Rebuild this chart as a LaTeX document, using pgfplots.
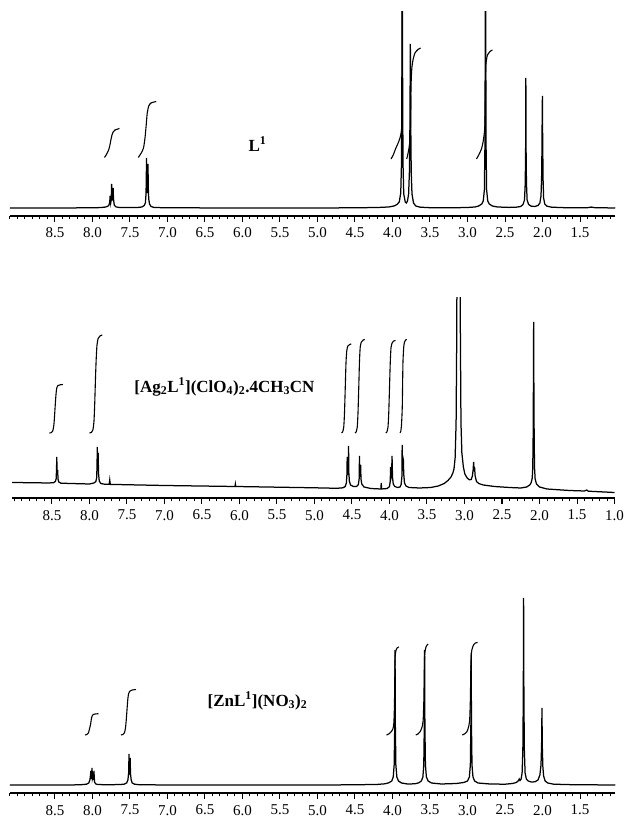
\documentclass[border=0pt]{standalone}
\usepackage{fontspec}
\setmainfont{Liberation Serif}
\usepackage{pgfplots}
\pgfplotsset{compat=1.18}
\pgfplotsset{nmr/.style={
  scale only axis, anchor=south west,
  x dir=reverse,
  axis x line=bottom, axis y line=none,
  axis line style={-, line width=1.6pt},
  tick align=outside,
  major tick length=6pt, minor tick length=3.5pt,
  tick style={black, line width=1pt},
  ytick=\empty,
  xticklabel style={font=\fontsize{15}{17}\selectfont, yshift=-2.5pt},
  clip=true,
  /pgf/number format/.cd, fixed, fixed zerofill, precision=1, assume math mode=true
}}
\tikzset{spec/.style={black, line width=1.25pt, mark=none},
  integ/.style={black, line width=1.1pt, mark=none, smooth, tension=0.4},
  lab/.style={font=\fontsize{17}{20}\selectfont\bfseries}}
\begin{document}
\begin{tikzpicture}
\useasboundingbox (0,0) rectangle (625pt,821pt);
% ---------------- Panel 1: L1 ----------------
\begin{axis}[nmr, at={(10pt,605pt)}, width=605.25pt, height=204pt,
  xmin=1.03, xmax=9.1, ymin=-8, ymax=196,
  xtick={1.5,2,...,8.5}, minor xtick={1.1,1.2,...,9.05}]
\addplot[spec] coordinates {(9.10,0)(8.5,0)(8.0,0.2)(7.90,0.4)(7.84,0.8)(7.80,1.5)(7.78,3)(7.77,6)(7.765,12)(7.757,5)(7.75,8)(7.745,24)(7.737,8)(7.732,8)(7.725,20)(7.72,9)(7.71,3)(7.69,1.2)(7.65,0.6)(7.55,0.4)(7.40,0.5)(7.34,1)(7.31,2.5)(7.295,5)(7.288,12)(7.283,25)(7.28,50)(7.276,22)(7.27,15)(7.264,22)(7.26,44)(7.256,20)(7.25,9)(7.24,4)(7.22,1.5)(7.18,0.5)(7.0,0.2)(6.0,0)(5.0,0)(4.5,0.2)(4.2,0.5)(4.05,1)(3.98,2)(3.94,3.5)(3.91,6)(3.89,15)(3.88,45)(3.875,130)(3.87,600)(3.865,130)(3.86,45)(3.85,14)(3.83,6)(3.815,5)(3.80,7)(3.785,14)(3.775,35)(3.768,80)(3.762,164)(3.756,80)(3.75,35)(3.74,14)(3.72,5)(3.69,2)(3.63,0.8)(3.5,0.3)(3.2,0.2)(3.0,0.5)(2.90,1)(2.85,2)(2.81,4)(2.79,7)(2.775,18)(2.768,60)(2.764,150)(2.76,600)(2.756,150)(2.752,60)(2.745,18)(2.73,7)(2.71,4)(2.67,2)(2.60,1)(2.45,0.6)(2.35,0.8)(2.29,1.5)(2.26,3.5)(2.24,8)(2.23,25)(2.225,60)(2.222,130)(2.219,60)(2.214,25)(2.205,8)(2.185,3.5)(2.15,1.8)(2.10,1.5)(2.06,2.5)(2.035,5)(2.02,12)(2.012,30)(2.007,60)(2.004,95)(2.001,112)(1.998,70)(1.992,28)(1.985,10)(1.97,4)(1.94,1.8)(1.88,0.8)(1.7,0.3)(1.40,0.3)(1.35,0.9)(1.30,0.3)(1.03,0)};
\addplot[integ] coordinates {(7.84,50.5)(7.81,54)(7.785,58)(7.77,62)(7.755,68)(7.74,73)(7.725,76)(7.70,78)(7.64,79.5)};
\addplot[integ] coordinates {(7.39,50.5)(7.35,55)(7.32,60)(7.30,70)(7.285,82)(7.27,95)(7.25,102)(7.22,105)(7.15,106.5)};
\addplot[integ] coordinates {(4.02,49)(3.99,53)(3.96,59)(3.93,64)(3.90,70)(3.88,78)(3.872,100)(3.87,200)(3.869,400)};
\addplot[integ] coordinates {(3.81,49)(3.795,54)(3.782,59)(3.77,66)(3.762,75)(3.757,100)(3.752,124)(3.742,140)(3.724,149)(3.70,155)(3.66,158.5)(3.626,160)};
\addplot[integ] coordinates {(2.88,49)(2.85,53)(2.814,59)(2.79,67)(2.77,80)(2.762,110)(2.756,141)(2.745,149)(2.733,153)(2.70,156.5)(2.667,158)};
\node[lab] at (axis cs:5.8,64) {L\textsuperscript{1}};
\end{axis}
% ---------------- Panel 2: Ag complex ----------------
\begin{axis}[nmr, at={(12.25pt,323pt)}, width=602.25pt, height=200pt,
  xmin=1.0, xmax=9.03, ymin=-15, ymax=185,
  xtick={1,1.5,...,8.5}, minor xtick={1.1,1.2,...,9.0}]
\addplot[spec] coordinates {(9.03,0.5)(8.7,0.2)(8.55,0)(8.48,0.3)(8.455,1.5)(8.445,4)(8.44,12)(8.436,26)(8.432,9)(8.428,9)(8.424,13)(8.42,4)(8.41,1)(8.38,-0.2)(8.2,-0.6)(8.0,-1)(7.94,0)(7.915,1.5)(7.905,5)(7.90,15)(7.896,36)(7.892,20)(7.888,22)(7.884,30)(7.88,10)(7.87,2)(7.85,-0.5)(7.80,-1.2)(7.74,-1.3)(7.735,0)(7.73,3)(7.725,0)(7.72,-1.4)(7.0,-2.5)(6.06,-3.5)(6.055,-1)(6.05,-3.5)(5.0,-4.8)(4.70,-5.3)(4.62,-4.8)(4.59,-3.5)(4.575,0)(4.568,8)(4.564,26)(4.56,8)(4.555,11)(4.55,14)(4.546,37)(4.542,10)(4.535,2)(4.52,-2)(4.48,-3.5)(4.44,-3.5)(4.415,-1.5)(4.405,4)(4.40,27)(4.396,8)(4.39,10)(4.385,18)(4.38,4)(4.37,-1)(4.34,-4)(4.25,-5.5)(4.115,-6)(4.11,0)(4.105,-6)(4.03,-5.5)(4.00,-3.5)(3.99,2)(3.985,16)(3.98,5)(3.972,8)(3.966,27)(3.96,6)(3.95,-1)(3.93,-3.5)(3.89,-4.5)(3.86,-4)(3.845,-1.5)(3.835,6)(3.831,38)(3.826,12)(3.82,25)(3.815,23)(3.81,9)(3.80,0)(3.78,-3)(3.74,-4.5)(3.6,-5)(3.45,-4.5)(3.35,-3)(3.27,-0.5)(3.22,2.5)(3.18,6)(3.155,10)(3.14,14)(3.125,25)(3.112,60)(3.103,150)(3.097,300)(3.06,300)(3.055,150)(3.047,60)(3.035,30)(3.015,16)(2.995,9)(2.965,5)(2.935,3.2)(2.91,3.5)(2.895,7)(2.885,13)(2.878,21)(2.872,12)(2.866,16)(2.858,7)(2.84,1.5)(2.81,-0.5)(2.75,-2)(2.6,-3.5)(2.4,-4.5)(2.25,-5)(2.17,-4)(2.13,-2)(2.11,0.5)(2.097,5)(2.09,15)(2.085,45)(2.081,100)(2.078,161)(2.075,100)(2.071,45)(2.066,15)(2.058,4)(2.04,-1)(2.0,-4)(1.9,-6)(1.6,-7.5)(1.4,-8)(1.37,-7)(1.35,-8.2)(1.0,-9.5)};
\addplot[integ] coordinates {(8.535,50)(8.51,50.3)(8.49,52)(8.475,58)(8.465,68)(8.455,80)(8.445,90)(8.435,95.5)(8.42,97.5)(8.39,98.2)(8.355,98.5)};
\addplot[integ] coordinates {(8.00,50)(7.975,50.5)(7.955,53)(7.94,62)(7.93,80)(7.92,105)(7.91,125)(7.90,138)(7.885,144.5)(7.86,147)(7.83,148)};
\addplot[integ] coordinates {(4.64,50)(4.625,51)(4.61,56)(4.60,70)(4.59,95)(4.58,120)(4.57,132)(4.555,137)(4.53,138.5)(4.51,139)};
\addplot[integ] coordinates {(4.46,50)(4.445,51)(4.43,56)(4.42,70)(4.41,95)(4.40,122)(4.39,136)(4.375,141)(4.35,143)(4.33,143.5)};
\addplot[integ] coordinates {(4.05,50)(4.035,51)(4.02,56)(4.01,70)(4.00,95)(3.99,120)(3.98,135)(3.965,140)(3.945,142)(3.92,142.5)};
\addplot[integ] coordinates {(3.86,50)(3.85,51.5)(3.84,58)(3.83,75)(3.825,100)(3.82,122)(3.81,136)(3.80,141)(3.785,143)(3.77,143.5)};
\node[lab] at (axis cs:6.2,96) {[Ag\textsubscript{2}L\textsuperscript{1}](ClO\textsubscript{4})\textsubscript{2}.4CH\textsubscript{3}CN};
\end{axis}
% ---------------- Panel 3: Zn complex ----------------
\begin{axis}[nmr, at={(10pt,28pt)}, width=605.25pt, height=198pt,
  xmin=1.03, xmax=9.1, ymin=-8, ymax=190,
  xtick={1.5,2,...,8.5}, minor xtick={1.1,1.2,...,9.05}]
\addplot[spec] coordinates {(9.10,0)(8.3,0)(8.15,0.3)(8.08,0.8)(8.05,2)(8.035,5)(8.026,10)(8.022,14)(8.017,6)(8.011,9)(8.007,17)(8.002,7)(7.997,9)(7.993,14)(7.988,5)(7.983,8)(7.978,10)(7.972,3)(7.96,1.2)(7.93,0.5)(7.85,0.3)(7.65,0.4)(7.58,0.8)(7.545,2)(7.528,5)(7.518,12)(7.513,31)(7.508,12)(7.503,13)(7.498,27)(7.493,11)(7.484,5)(7.47,2)(7.44,0.8)(7.38,0.3)(7.0,0)(6.0,0)(5.0,0)(4.5,0.2)(4.2,0.6)(4.10,1.2)(4.05,2.2)(4.01,4)(3.99,8)(3.978,20)(3.97,60)(3.966,135)(3.962,60)(3.955,20)(3.942,8)(3.92,4)(3.88,2)(3.80,1)(3.70,1.2)(3.65,2.2)(3.615,4)(3.595,8)(3.583,20)(3.576,60)(3.572,135)(3.568,60)(3.561,20)(3.548,8)(3.525,4)(3.48,2)(3.35,1)(3.15,1.5)(3.05,2.5)(3.0,4)(2.975,8)(2.962,20)(2.955,60)(2.951,132)(2.947,60)(2.94,20)(2.927,8)(2.905,4)(2.86,2)(2.7,1)(2.5,0.8)(2.40,1.5)(2.35,2.5)(2.325,4)(2.31,6)(2.30,4.5)(2.285,6)(2.272,12)(2.262,35)(2.256,90)(2.252,187)(2.248,90)(2.242,35)(2.232,12)(2.215,6)(2.19,4)(2.15,3)(2.10,3.2)(2.06,5)(2.035,10)(2.02,20)(2.012,40)(2.007,77)(2.003,40)(1.995,18)(1.985,9)(1.965,4)(1.93,2)(1.85,0.8)(1.6,0.3)(1.03,0)};
\addplot[integ] coordinates {(8.10,50)(8.075,50.5)(8.055,52)(8.04,56)(8.025,61)(8.015,66)(8.005,69)(7.99,70.5)(7.965,71)(7.92,71.3)};
\addplot[integ] coordinates {(7.62,50)(7.595,50.5)(7.575,52)(7.56,57)(7.55,65)(7.54,75)(7.53,85)(7.52,91)(7.50,94)(7.47,95)(7.42,95.5)};
\addplot[integ] coordinates {(4.08,50)(4.05,51)(4.02,53)(3.995,56)(3.982,62)(3.974,80)(3.969,110)(3.965,128)(3.955,134)(3.94,137)(3.915,138)};
\addplot[integ] coordinates {(3.69,50)(3.66,51)(3.635,53)(3.61,57)(3.592,64)(3.582,85)(3.577,110)(3.573,128)(3.563,135)(3.548,139)(3.525,141)};
\addplot[integ] coordinates {(3.07,50)(3.04,51)(3.01,53)(2.99,57)(2.972,64)(2.962,85)(2.957,110)(2.952,127)(2.942,135)(2.92,140)(2.895,142)(2.865,142.5)};
\node[lab] at (axis cs:5.8,84) {[ZnL\textsuperscript{1}](NO\textsubscript{3})\textsubscript{2}};
\end{axis}
\end{tikzpicture}
\end{document}
